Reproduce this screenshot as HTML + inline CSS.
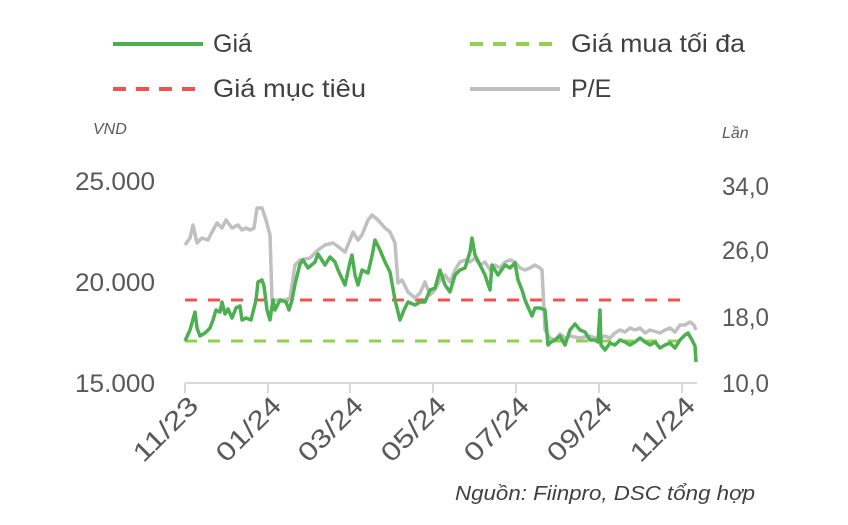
<!DOCTYPE html><html><head><meta charset="utf-8"><style>body{margin:0;background:#fff}</style></head><body>
<svg width="848" height="520" xmlns="http://www.w3.org/2000/svg" font-family="Liberation Sans, DejaVu Sans, sans-serif">
<g stroke-width="4">
<line x1="113" y1="44" x2="203" y2="44" stroke="#4caf50"/>
<line x1="470" y1="44" x2="560" y2="44" stroke="#92d050" stroke-dasharray="13,10"/>
<line x1="113" y1="89" x2="203" y2="89" stroke="#ef5350" stroke-dasharray="13,10"/>
<line x1="470" y1="89" x2="560" y2="89" stroke="#bfbfbf"/>
</g>
<g font-size="25" fill="#404040">
<text x="213" y="52">Giá</text><text x="571" y="52" textLength="174" lengthAdjust="spacingAndGlyphs">Giá mua tối đa</text>
<text x="213" y="97" textLength="153" lengthAdjust="spacingAndGlyphs">Giá mục tiêu</text><text x="571" y="97">P/E</text>
</g>
<g font-size="16" font-style="italic" fill="#595959"><text x="93" y="134">VND</text><text x="722" y="138">Lần</text></g>
<g font-size="25" fill="#595959">
<text x="155" y="190" text-anchor="end" textLength="80" lengthAdjust="spacingAndGlyphs">25.000</text>
<text x="155" y="291" text-anchor="end" textLength="80" lengthAdjust="spacingAndGlyphs">20.000</text>
<text x="155" y="392" text-anchor="end" textLength="80" lengthAdjust="spacingAndGlyphs">15.000</text>
<text x="722" y="195" textLength="47" lengthAdjust="spacingAndGlyphs">34,0</text><text x="722" y="259" textLength="47" lengthAdjust="spacingAndGlyphs">26,0</text>
<text x="722" y="326" textLength="47" lengthAdjust="spacingAndGlyphs">18,0</text><text x="722" y="392" textLength="47" lengthAdjust="spacingAndGlyphs">10,0</text>
</g>
<g stroke="#d9d9d9" stroke-width="2"><line x1="185" y1="383" x2="697" y2="383"/>
<line x1="185" y1="383" x2="185" y2="393"/><line x1="268" y1="383" x2="268" y2="393"/><line x1="350" y1="383" x2="350" y2="393"/><line x1="433" y1="383" x2="433" y2="393"/><line x1="516" y1="383" x2="516" y2="393"/><line x1="599" y1="383" x2="599" y2="393"/><line x1="682" y1="383" x2="682" y2="393"/></g>
<g font-size="26" fill="#595959" text-anchor="end">
<text transform="translate(200,407) rotate(-45)" textLength="80" lengthAdjust="spacingAndGlyphs">11/23</text>
<text transform="translate(283,407) rotate(-45)" textLength="80" lengthAdjust="spacingAndGlyphs">01/24</text>
<text transform="translate(365,407) rotate(-45)" textLength="80" lengthAdjust="spacingAndGlyphs">03/24</text>
<text transform="translate(448,407) rotate(-45)" textLength="80" lengthAdjust="spacingAndGlyphs">05/24</text>
<text transform="translate(531,407) rotate(-45)" textLength="80" lengthAdjust="spacingAndGlyphs">07/24</text>
<text transform="translate(614,407) rotate(-45)" textLength="80" lengthAdjust="spacingAndGlyphs">09/24</text>
<text transform="translate(697,407) rotate(-45)" textLength="80" lengthAdjust="spacingAndGlyphs">11/24</text>
</g>
<line x1="185" y1="341" x2="683" y2="341" stroke="#92d050" stroke-width="3" stroke-dasharray="12,11"/>
<line x1="185" y1="300" x2="683" y2="300" stroke="#ef5350" stroke-width="3" stroke-dasharray="12,11"/>
<polyline fill="none" stroke="#c0c0c0" stroke-width="3.5" stroke-linejoin="round" points="185,245 190,238 193,225 197,243 202,238 208,240 212,232 217,223 222,228 226,220 232,228 238,225 242,230 246,228 250,230 254,228 257,208 262,208 266,220 270,235 272,300 278,300 285,300 290,298 295,265 300,260 310,258 318,250 325,245 333,243 340,248 345,252 350,240 353,232 358,240 362,235 368,220 372,215 378,220 385,228 390,232 395,243 398,283 402,280 408,292 415,298 420,293 425,282 430,295 435,290 440,280 445,275 450,282 455,270 460,262 465,260 470,262 475,258 480,265 485,262 490,270 495,265 500,268 505,262 510,260 515,262 520,268 525,270 530,268 535,265 540,268 542,270 545,330 550,338 555,340 560,334 565,338 570,336 580,338 590,336 595,338 600,338 605,336 610,338 615,333 620,330 625,332 630,328 635,330 640,328 645,333 650,330 660,333 665,330 670,328 675,332 680,325 685,325 690,322 694,325 696,330"/>
<polyline fill="none" stroke="#4caf50" stroke-width="3.5" stroke-linejoin="round" points="185,341 190,330 195,312 197,328 200,336 205,333 210,328 213,320 216,310 220,312 222,302 225,314 228,309 232,318 236,308 240,306 242,320 246,318 251,320 256,300 258,282 262,280 264,286 267,310 270,320 273,300 275,310 280,300 286,302 289,310 292,300 295,284 300,264 303,260 308,268 315,262 318,254 325,265 330,257 335,262 338,270 345,285 350,262 352,255 355,275 358,285 362,270 368,273 372,256 375,240 380,250 385,262 390,272 395,300 400,320 404,310 408,302 415,305 420,302 425,302 430,290 435,288 440,270 445,285 450,292 455,275 460,270 465,268 470,252 472,238 475,255 480,265 485,275 490,290 492,265 498,275 505,265 510,268 515,263 518,280 522,290 525,300 528,307 532,316 535,308 540,308 545,310 548,345 551,342 555,340 560,336 565,345 570,330 575,324 580,330 585,332 590,340 595,340 598,342 600,310 601,345 605,350 610,343 615,345 620,340 625,342 630,345 635,342 640,338 645,342 650,345 655,342 660,348 665,345 670,343 675,348 680,340 685,335 688,333 692,340 695,346 696,362"/>
<text x="755" y="500" text-anchor="end" font-size="20" font-style="italic" fill="#404040" textLength="300" lengthAdjust="spacingAndGlyphs">Nguồn: Fiinpro, DSC tổng hợp</text>
</svg>
</body></html>
